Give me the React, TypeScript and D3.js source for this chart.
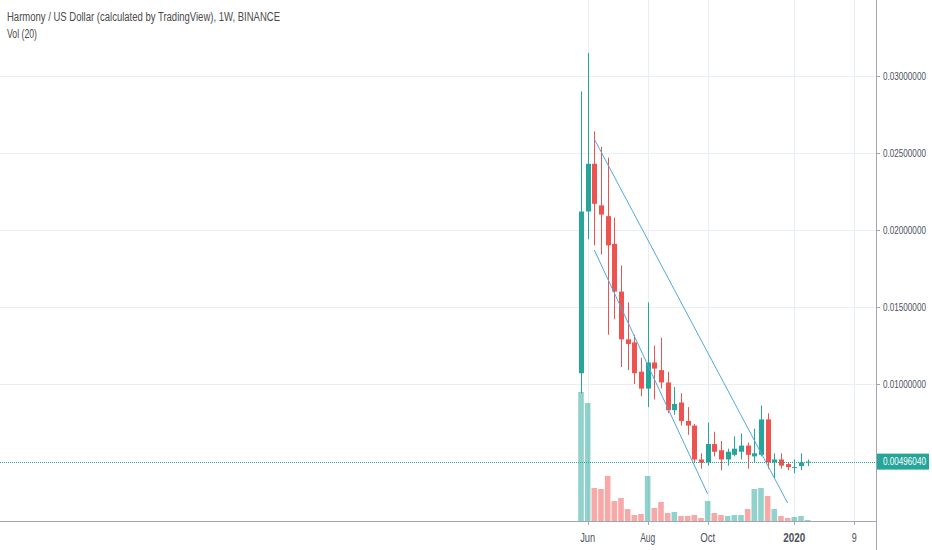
import React from "react";
import * as d3 from "d3";

const weeks = [
  "2019-05-27", "2019-06-03", "2019-06-10", "2019-06-17", "2019-06-24",
  "2019-07-01", "2019-07-08", "2019-07-15", "2019-07-22", "2019-07-29",
  "2019-08-05", "2019-08-12", "2019-08-19", "2019-08-26", "2019-09-02",
  "2019-09-09", "2019-09-16", "2019-09-23", "2019-09-30", "2019-10-07",
  "2019-10-14", "2019-10-21", "2019-10-28", "2019-11-04", "2019-11-11",
  "2019-11-18", "2019-11-25", "2019-12-02", "2019-12-09", "2019-12-16",
  "2019-12-23", "2019-12-30", "2020-01-06", "2020-01-13", "2020-01-20",
];
const opens = [
  0.0107, 0.0212, 0.0243, 0.0216, 0.0209, 0.0191, 0.0160, 0.0129, 0.0127, 0.0108,
  0.0097, 0.0114, 0.0109, 0.0101, 0.0083, 0.0088, 0.0076, 0.0073, 0.0051, 0.0049,
  0.0061, 0.0057, 0.0051, 0.0054, 0.0056, 0.0060, 0.0053, 0.0054, 0.0077, 0.0049,
  0.0051, 0.0048, 0.00455, 0.00467, 0.0049,
];
const highs = [
  0.0290, 0.0315, 0.0264, 0.0254, 0.0247, 0.0208, 0.0177, 0.0153, 0.0132, 0.0117,
  0.0153, 0.0125, 0.0130, 0.0108, 0.0098, 0.0094, 0.0085, 0.0074, 0.0055, 0.0075,
  0.0069, 0.0063, 0.0058, 0.0066, 0.0068, 0.0062, 0.0071, 0.0086, 0.0081, 0.0055,
  0.0055, 0.0049, 0.0051, 0.0055, 0.0051,
];
const lows = [
  0.0094, 0.0194, 0.0190, 0.0184, 0.0132, 0.0142, 0.0111, 0.0109, 0.0100, 0.0092,
  0.0085, 0.0090, 0.0097, 0.0081, 0.0080, 0.0073, 0.0067, 0.0049, 0.0045, 0.0047,
  0.0053, 0.0044, 0.0047, 0.0053, 0.0051, 0.0045, 0.0049, 0.0053, 0.0045, 0.0039,
  0.0045, 0.0044, 0.0042, 0.0044, 0.00467,
];
const closes = [
  0.0212, 0.0243, 0.0217, 0.0210, 0.0190, 0.0160, 0.0129, 0.0126, 0.0107, 0.0097,
  0.0114, 0.0110, 0.0101, 0.0083, 0.0087, 0.0076, 0.0073, 0.0051, 0.0049, 0.0061,
  0.0056, 0.0051, 0.0056, 0.0058, 0.0060, 0.0054, 0.0055, 0.0077, 0.0049, 0.0051,
  0.0047, 0.0046, 0.0046, 0.0049, 0.0049604,
];
const volumes = [
  1290, 1180, 330, 320, 450, 200, 230, 120, 60, 70,
  450, 130, 190, 80, 90, 50, 50, 60, 30, 200,
  80, 60, 50, 60, 60, 120, 320, 330, 250, 120,
  50, 30, 40, 50, 10,
];
const priceTicks = [0.01, 0.015, 0.02, 0.025, 0.03];
const timeTicks = ["2019-06-03", "2019-08-05", "2019-10-07", "2020-01-06", "2020-03-09"];
const timeTickLabels = ["Jun", "Aug", "Oct", "2020", "9"];
const trendLines = [
  { from: ["2019-06-10", 0.0259], to: ["2019-12-30", 0.00227] },
  { from: ["2019-06-10", 0.0187], to: ["2019-10-07", 0.00286] },
];
const lastPrice = 0.0049604;
const title = "Harmony / US Dollar (calculated by TradingView), 1W, BINANCE";
const volTitle = "Vol (20)";

const W = 932;
const H = 550;
const axisX = 876;
const axisY = 521;
const GREEN = "#26a69a";
const RED = "#ef5350";
const GRID = "#e7eef4";
const AXIS = "#a3a6af";
const TEXT = "#4c525e";
const FONT = "'Liberation Sans', Arial, sans-serif";

export default function App() {
  const parse = (s: string) => new Date(s + "T00:00:00Z");
  const x = d3
    .scaleUtc()
    .domain([parse("2019-05-27"), parse("2020-03-09")])
    .range([581, 854.3]);
  const y = d3.scaleLinear().domain([0.01, 0.03]).range([384, 76]);
  const yVol = d3.scaleLinear().domain([0, 1290]).range([axisY, 392]);

  const candles = weeks.map((w, i) => ({
    t: parse(w),
    o: opens[i],
    h: highs[i],
    l: lows[i],
    c: closes[i],
    v: volumes[i],
  }));

  const bodyW = 5;
  const volW = 5.6;
  const timeWidths: Record<string, number> = { Jun: 15, Aug: 15, Oct: 15, "2020": 22, "9": 5 };
  const priceScaleX = 0.74;

  return (
    <svg
      width={W}
      height={H}
      style={{ position: "absolute", left: 0, top: 0, background: "#fff" }}
      fontFamily={FONT}
    >
      <rect x={0} y={0} width={W} height={H} fill="#ffffff" />
      {/* grid */}
      {priceTicks.map((p) => (
        <line
          key={"hg" + p}
          x1={0}
          x2={axisX}
          y1={Math.round(y(p)) + 0.5}
          y2={Math.round(y(p)) + 0.5}
          stroke={GRID}
          strokeWidth={1}
        />
      ))}
      {timeTicks.map((t) => (
        <line
          key={"vg" + t}
          x1={Math.round(x(parse(t))) + 0.5}
          x2={Math.round(x(parse(t))) + 0.5}
          y1={0}
          y2={axisY}
          stroke={GRID}
          strokeWidth={1}
        />
      ))}
      {/* volume */}
      {candles.map((d, i) => (
        <rect
          key={"v" + i}
          x={x(d.t) - volW / 2}
          y={yVol(d.v)}
          width={volW}
          height={axisY - yVol(d.v)}
          fill={d.c >= d.o ? GREEN : RED}
          fillOpacity={0.5}
        />
      ))}
      {/* candles */}
      {candles.map((d, i) => {
        const col = d.c >= d.o ? GREEN : RED;
        const cx = Math.round(x(d.t)) + 0.5;
        const top = y(Math.max(d.o, d.c));
        const bot = y(Math.min(d.o, d.c));
        return (
          <g key={"c" + i}>
            <line x1={cx} x2={cx} y1={y(d.h)} y2={y(d.l)} stroke={col} strokeWidth={1} />
            <rect
              x={cx - bodyW / 2}
              y={top}
              width={bodyW}
              height={Math.max(1, bot - top)}
              fill={col}
            />
          </g>
        );
      })}
      {/* trend lines */}
      {trendLines.map((l, i) => (
        <line
          key={"tl" + i}
          x1={x(parse(l.from[0] as string))}
          y1={y(l.from[1] as number)}
          x2={x(parse(l.to[0] as string))}
          y2={y(l.to[1] as number)}
          stroke="#4fa9e0"
          strokeWidth={1}
        />
      ))}
      {/* last price line */}
      <line
        x1={0}
        x2={axisX}
        y1={Math.round(y(lastPrice)) + 0.5}
        y2={Math.round(y(lastPrice)) + 0.5}
        stroke={GREEN}
        strokeWidth={1}
        strokeDasharray="1,1"
      />
      {/* axes */}
      <line x1={axisX + 0.5} x2={axisX + 0.5} y1={0} y2={H} stroke={AXIS} strokeWidth={1} />
      <line x1={0} x2={axisX} y1={axisY + 0.5} y2={axisY + 0.5} stroke={AXIS} strokeWidth={1} />
      {priceTicks.map((p) => (
        <g key={"pt" + p}>
          <line
            x1={axisX}
            x2={axisX + 4}
            y1={Math.round(y(p)) + 0.5}
            y2={Math.round(y(p)) + 0.5}
            stroke={AXIS}
          />
          <g transform={`translate(883,${y(p)}) scale(${priceScaleX},1)`}>
            <text x={0} y={0} dy="0.35em" fontSize={11} fill={TEXT}>
              {p.toFixed(8)}
            </text>
          </g>
        </g>
      ))}
      {timeTicks.map((t, i) => (
        <g key={"tt" + t}>
          <line
            x1={Math.round(x(parse(t))) + 0.5}
            x2={Math.round(x(parse(t))) + 0.5}
            y1={axisY}
            y2={axisY + 4}
            stroke={AXIS}
          />
          <text
            x={x(parse(t))}
            y={542}
            textAnchor="middle"
            fontSize={12}
            fontWeight={timeTickLabels[i] === "2020" ? "bold" : "normal"}
            fill={TEXT}
            textLength={timeWidths[timeTickLabels[i]]}
            lengthAdjust="spacingAndGlyphs"
          >
            {timeTickLabels[i]}
          </text>
        </g>
      ))}
      {/* last price label */}
      <rect x={axisX + 1} y={y(lastPrice) - 8} width={52} height={16} fill={GREEN} />
      <g transform={`translate(883,${y(lastPrice)}) scale(${priceScaleX},1)`}>
        <text x={0} y={0} dy="0.35em" fontSize={11} fill="#ffffff">
          {lastPrice.toFixed(8)}
        </text>
      </g>
      {/* header */}
      <text
        x={7}
        y={21}
        fontSize={12}
        fill="#4a4a4a"
        textLength={273}
        lengthAdjust="spacingAndGlyphs"
      >
        {title}
      </text>
      <text
        x={7}
        y={38}
        fontSize={12}
        fill="#4a4a4a"
        textLength={30}
        lengthAdjust="spacingAndGlyphs"
      >
        {volTitle}
      </text>
    </svg>
  );
}
